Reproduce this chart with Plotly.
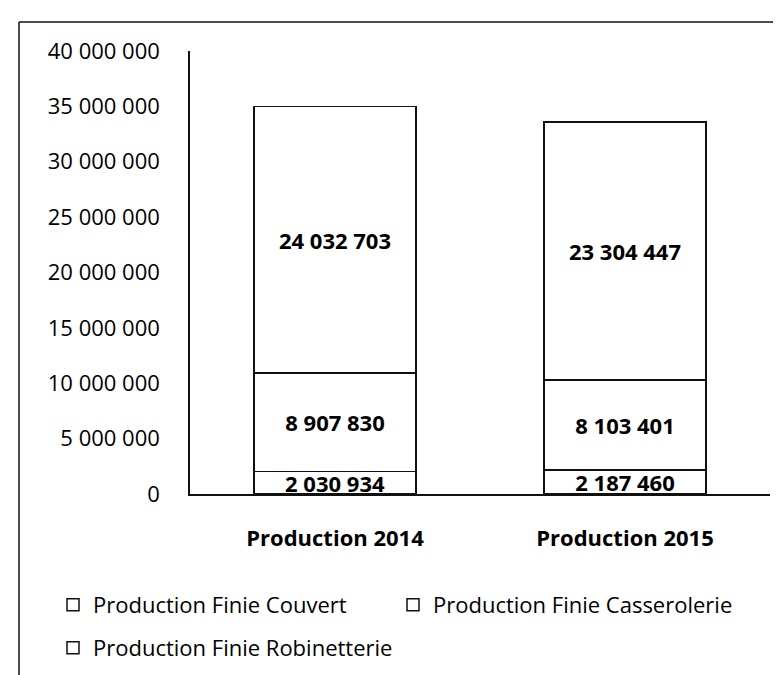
import plotly.graph_objects as go

categories = ["Production 2014", "Production 2015"]
couvert = [2030934, 2187460]
casserolerie = [8907830, 8103401]
robinetterie = [24032703, 23304447]
series_names = ["Production Finie Couvert", "Production Finie Casserolerie", "Production Finie Robinetterie"]
y_ticks = [0, 5000000, 10000000, 15000000, 20000000, 25000000, 30000000, 35000000, 40000000]

W, H = 781, 675
L, R, T, B = 182, 19, 43, 189
PW, PH = W - L - R, H - T - B


def px_x(x):
    return (x - L) / PW


def px_y(y):
    return (H - B - y) / PH


fig = go.Figure()
legends = ["legend", "legend2", "legend3"]
for name, vals, lg in zip(series_names, [couvert, casserolerie, robinetterie], legends):
    fig.add_trace(go.Bar(
        x=categories, y=vals, name=name, legend=lg, showlegend=True,
        marker=dict(color="white", line=dict(color="#111111", width=1.5)),
        texttemplate="%{y:,.0f}", textposition="inside", insidetextanchor="middle",
        textangle=0,
        textfont=dict(family="Open Sans", size=22, color="black", weight="bold"),
    ))

leg_font = dict(family="Open Sans", size=22, color="black")
fig.update_layout(
    width=W, height=H,
    margin=dict(l=L, r=R, t=T, b=B, pad=0),
    barmode="stack", bargap=0.44,
    separators=", ",
    showlegend=True,
    paper_bgcolor="white", plot_bgcolor="white",
    uniformtext=dict(minsize=22, mode="show"),
    font=dict(family="Open Sans", size=22, color="black"),
    xaxis=dict(
        showline=True, linecolor="#111111", linewidth=1.5,
        showgrid=False, ticks="", ticklabelstandoff=24,
        tickfont=dict(family="Open Sans", size=22, color="black", weight="bold"),
        range=[-0.5, 1.5],
    ),
    yaxis=dict(
        range=[0, 40000000], tickvals=y_ticks, tickformat=",.0f",
        showline=True, linecolor="#111111", linewidth=1.5,
        showgrid=False, zeroline=False, ticks="", ticklabelstandoff=24,
        tickfont=dict(family="Open Sans", size=22, color="black"),
    ),
    legend=dict(x=px_x(45), y=px_y(597), xanchor="left", yanchor="middle",
                font=leg_font, bgcolor="rgba(0,0,0,0)", visible=True),
    legend2=dict(x=px_x(385), y=px_y(597), xanchor="left", yanchor="middle",
                 font=leg_font, bgcolor="rgba(0,0,0,0)", visible=True),
    legend3=dict(x=px_x(45), y=px_y(640), xanchor="left", yanchor="middle",
                 font=leg_font, bgcolor="rgba(0,0,0,0)", visible=True),
    shapes=[
        dict(type="line", xref="paper", yref="paper", x0=px_x(11), x1=px_x(781), y0=px_y(14), y1=px_y(14),
             line=dict(color="#111111", width=1.5)),
        dict(type="line", xref="paper", yref="paper", x0=px_x(11), x1=px_x(11), y0=px_y(14), y1=px_y(675),
             line=dict(color="#111111", width=1.5)),
    ],
)

fig.write_html("out.html")
